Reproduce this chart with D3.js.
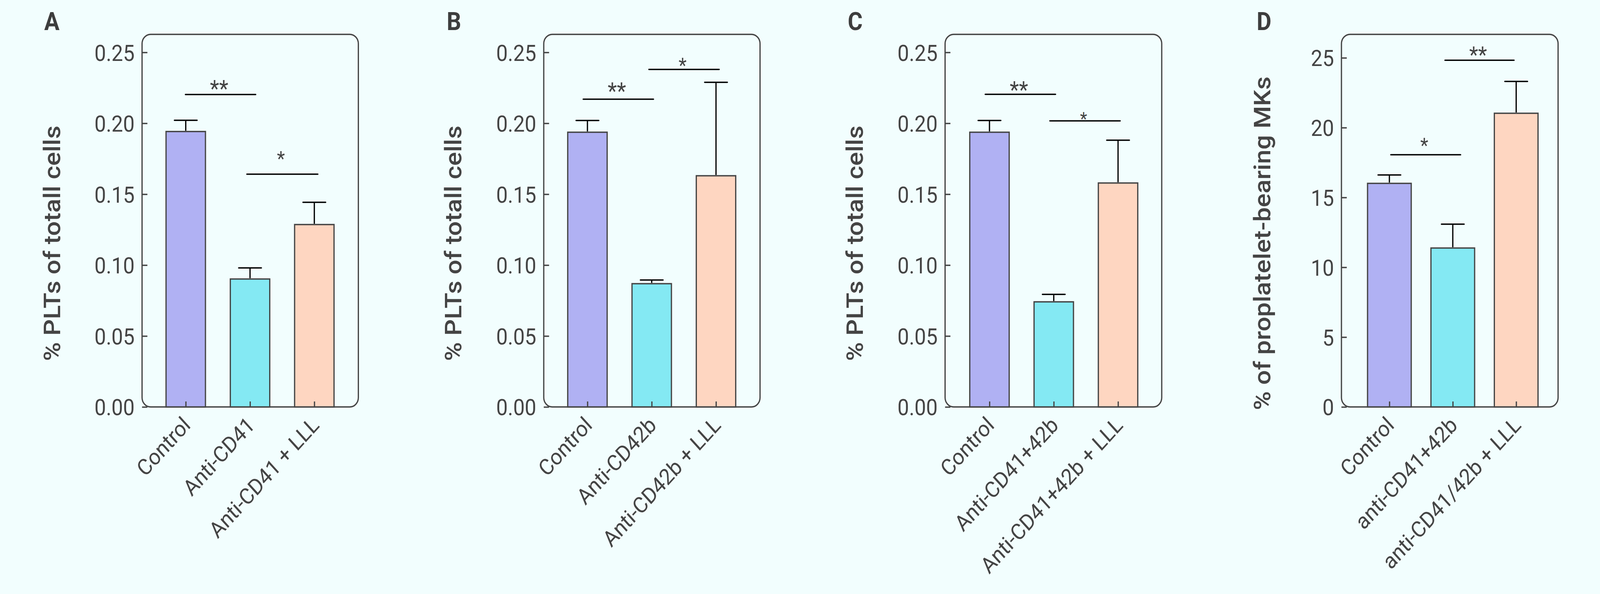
<!DOCTYPE html>
<html>
<head>
<meta charset="utf-8">
<script src="https://cdn.jsdelivr.net/npm/d3@7"></script>
<style>
	html, body { margin: 0; background: #f2fefe; overflow: hidden; }
	svg { display: block; }
	text { font-family: Roboto, "Noto Sans", sans-serif; }
</style>
</head>
<body>
<script>
// Panel A
const groupsA = ["Control", "Anti-CD41", "Anti-CD41 + LLL"];
const meansA = [0.1942, 0.0902, 0.1286];
const errorsA = [0.0079, 0.0078, 0.0157];
const sigPairsA = [[0, 1], [1, 2]];
const sigLevelsA = [0.2203, 0.1641];
const sigMarksA = ["**", "*"];

// Panel B
const groupsB = ["Control", "Anti-CD42b", "Anti-CD42b + LLL"];
const meansB = [0.1937, 0.0869, 0.163];
const errorsB = [0.0083, 0.0026, 0.0659];
const sigPairsB = [[0, 1], [1, 2]];
const sigLevelsB = [0.217, 0.238];
const sigMarksB = ["**", "*"];

// Panel C
const groupsC = ["Control", "Anti-CD41+42b", "Anti-CD41+42b + LLL"];
const meansC = [0.1937, 0.0741, 0.1579];
const errorsC = [0.0083, 0.0053, 0.0302];
const sigPairsC = [[0, 1], [1, 2]];
const sigLevelsC = [0.2204, 0.2017];
const sigMarksC = ["**", "*"];

// Panel D
const groupsD = ["Control", "anti-CD41+42b", "anti-CD41/42b + LLL"];
const meansD = [16.01, 11.38, 21.03];
const errorsD = [0.6, 1.71, 2.28];
const sigPairsD = [[0, 1], [1, 2]];
const sigLevelsD = [18.06, 24.83];
const sigMarksD = ["*", "**"];

// Axis ticks and titles
const ticksPct = [0, 0.05, 0.1, 0.15, 0.2, 0.25];
const ticksMK = [0, 5, 10, 15, 20, 25];
const titlePct = "% PLTs of totall cells";
const titleMK = "% of proplatelet-bearing MKs";
const letters = ["A", "B", "C", "D"];

// drawing is done in a 4505 x 1521 space, stretched to whatever the window is
const width = 4505;
const height = 1521;
const barColors = ["#b0b1f3", "#84e9f3", "#fed6c1"];
const ink = "#454545";

// layout of each panel (pixels)
const layouts = [
	{ left: 400, right: 1009, c0: 523, c2: 885, barW: 111, title: 169, letter: 146,
		brackets: [[-1, 16], [-9, 10]], starSize: [60, 52], starGap: [15, 39] },
	{ left: 1531, right: 2140, c0: 1654, c2: 2016, barW: 111, title: 1299, letter: 1278,
		brackets: [[-12, 5], [-8, 9]], starSize: [60, 52], starGap: [21, 10] },
	{ left: 2661, right: 3271, c0: 2786, c2: 3148, barW: 111, title: 2430, letter: 2408,
		brackets: [[-12, 5], [-11, 6]], starSize: [60, 46], starGap: [11, 5] },
	{ left: 3777, right: 4387, c0: 3912, c2: 4269, barW: 123, title: 3577, letter: 3559,
		brackets: [[4, 22], [-22, -6]], starSize: [52, 58], starGap: [23, 13] },
];

const panels = [
	{ groups: groupsA, means: meansA, errors: errorsA, pairs: sigPairsA, levels: sigLevelsA, marks: sigMarksA,
		ticks: ticksPct, top: 0.2627, fmt: d3.format(".2f"), title: titlePct },
	{ groups: groupsB, means: meansB, errors: errorsB, pairs: sigPairsB, levels: sigLevelsB, marks: sigMarksB,
		ticks: ticksPct, top: 0.2627, fmt: d3.format(".2f"), title: titlePct },
	{ groups: groupsC, means: meansC, errors: errorsC, pairs: sigPairsC, levels: sigLevelsC, marks: sigMarksC,
		ticks: ticksPct, top: 0.2627, fmt: d3.format(".2f"), title: titlePct },
	{ groups: groupsD, means: meansD, errors: errorsD, pairs: sigPairsD, levels: sigLevelsD, marks: sigMarksD,
		ticks: ticksMK, top: 26.68, fmt: d3.format("d"), title: titleMK },
];

const plotTop = 88;
const plotBottom = 1042;

const svg = d3.select("body").append("svg")
	.attr("width", window.innerWidth)
	.attr("height", window.innerHeight)
	.attr("viewBox", `0 0 ${width} ${height}`)
	.attr("preserveAspectRatio", "none");

panels.forEach((p, k) => {
	const L = layouts[k];
	const g = svg.append("g");

	const x = d3.scalePoint().domain(p.groups).range([L.c0, L.c2]);
	const y = d3.scaleLinear().domain([0, p.top]).range([plotBottom, plotTop]);

	// rounded frame
	g.append("rect")
		.attr("x", L.left)
		.attr("y", plotTop)
		.attr("width", L.right - L.left)
		.attr("height", plotBottom - plotTop)
		.attr("rx", 24)
		.attr("fill", "none")
		.attr("stroke", ink)
		.attr("stroke-width", 3.5);

	// bars
	g.selectAll(".bar")
		.data(p.means)
		.enter()
		.append("rect")
		.attr("x", (d, i) => x(p.groups[i]) - L.barW / 2)
		.attr("y", (d) => y(d))
		.attr("width", L.barW)
		.attr("height", (d) => y(0) - y(d))
		.attr("fill", (d, i) => barColors[i])
		.attr("stroke", ink)
		.attr("stroke-width", 3.5);

	// error bars (upper only)
	const capW = 64;
	p.means.forEach((m, i) => {
		const cx = x(p.groups[i]);
		g.append("line")
			.attr("x1", cx).attr("x2", cx)
			.attr("y1", y(m) - 2).attr("y2", y(m + p.errors[i]))
			.attr("stroke", "#000").attr("stroke-width", 3.5);
		g.append("line")
			.attr("x1", cx - capW / 2).attr("x2", cx + capW / 2)
			.attr("y1", y(m + p.errors[i])).attr("y2", y(m + p.errors[i]))
			.attr("stroke", "#000").attr("stroke-width", 3.5).attr("stroke-linecap", "round");
	});

	// y axis, inward ticks
	const yAxis = g.append("g")
		.attr("transform", `translate(${L.left},0)`)
		.call(d3.axisLeft(y).tickValues(p.ticks).tickFormat(p.fmt).tickSize(-15).tickPadding(21));
	yAxis.select(".domain").remove();
	yAxis.selectAll(".tick line").attr("stroke", ink).attr("stroke-width", 3.5);
	yAxis.selectAll(".tick text")
		.attr("fill", "#444")
		.style("font-size", "58px")
		.attr("dy", "0.36em");

	// x axis, inward ticks and rotated labels
	const xAxis = g.append("g")
		.attr("transform", `translate(0,${plotBottom})`)
		.call(d3.axisBottom(x).tickSize(-14).tickPadding(0));
	xAxis.select(".domain").remove();
	xAxis.selectAll(".tick line").attr("stroke", ink).attr("stroke-width", 3.5);
	xAxis.selectAll(".tick text")
		.attr("fill", "#444")
		.style("font-size", "57px")
		.attr("text-anchor", "end")
		.attr("x", 0)
		.attr("y", 0)
		.attr("dy", 0)
		.attr("transform", "translate(16,50) rotate(-45)");

	// significance brackets
	p.pairs.forEach((pair, j) => {
		const x1 = x(p.groups[pair[0]]) + L.brackets[j][0];
		const x2 = x(p.groups[pair[1]]) + L.brackets[j][1];
		const yy = y(p.levels[j]);
		g.append("line")
			.attr("x1", x1).attr("x2", x2)
			.attr("y1", yy).attr("y2", yy)
			.attr("stroke", "#000").attr("stroke-width", 3.5).attr("stroke-linecap", "round");
		const fs = L.starSize[j];
		g.append("text")
			.attr("x", (x1 + x2) / 2 - 4)
			.attr("y", yy - L.starGap[j] + fs * 0.33)
			.attr("text-anchor", "middle")
			.attr("fill", "#444")
			.style("font-size", `${fs}px`)
			.text(p.marks[j]);
	});

	// y title
	g.append("text")
		.attr("transform", `translate(${L.title},623) rotate(-90)`)
		.attr("text-anchor", "middle")
		.attr("fill", "#444")
		.style("font-size", "66px")
		.style("font-weight", 500)
		.text(p.title);

	// panel letter
	g.append("text")
		.attr("x", L.letter)
		.attr("y", 77)
		.attr("text-anchor", "middle")
		.attr("fill", "#3d3d3d")
		.style("font-size", "64px")
		.style("font-weight", 700)
		.text(letters[k]);
});
</script>
</body>
</html>
